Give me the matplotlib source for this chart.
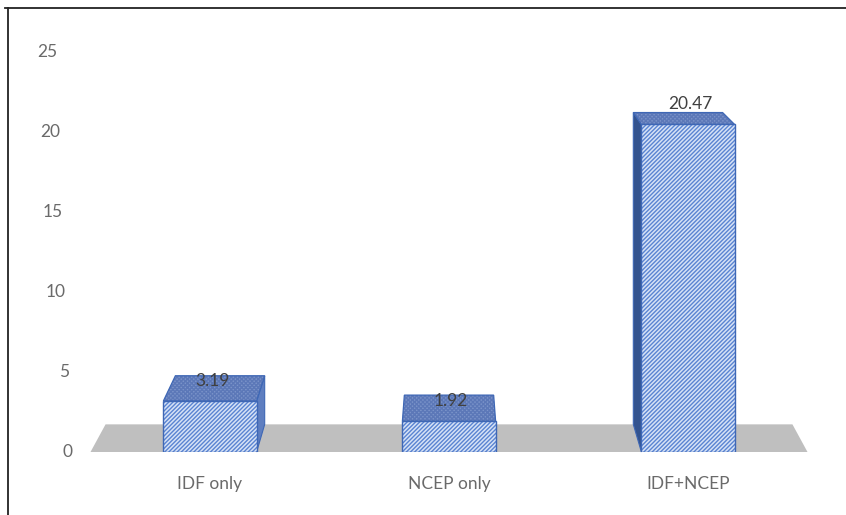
import matplotlib
matplotlib.use("Agg")
import matplotlib.pyplot as plt
from matplotlib.patches import Polygon
from matplotlib.lines import Line2D

# ------------------------------------------------------------
#  Datos
# ------------------------------------------------------------
categories = ["IDF only", "NCEP only", "IDF+NCEP"]
values = [3.19, 1.92, 20.47]
y_ticks = [0, 5, 10, 15, 20, 25]

# ------------------------------------------------------------
#  Estilo y perspectiva (columnas "3D")
# ------------------------------------------------------------
plt.rcParams["font.family"] = ["Lato", "DejaVu Sans"]
plt.rcParams["hatch.linewidth"] = 1.0

VP = (1.0, 36.0)        # punto de fuga en coordenadas de datos
KX, KY = 0.042, 0.048   # profundidad relativa hacia el punto de fuga
BAR_W = 0.39

FRONT_FC = "#D6E2F6"
FRONT_HATCH = "#5A84D2"
EDGE = "#3E67B5"
TOP_FC = "#7A93C9"
TOP_HATCH = "#5C78B8"
SIDE_R = "#5E7EC0"
SIDE_L = "#33538F"
FLOOR = "#BFBFBF"
TXT = "#6A6A6A"


def back(x, y):
    return (x + (VP[0] - x) * KX, y + (VP[1] - y) * KY)


fig = plt.figure(figsize=(8.46, 5.15), dpi=100)
ax = fig.add_axes([90.5 / 846, 63 / 515, 717 / 846, 400 / 515])
ax.set_xlim(-0.5, 2.5)
ax.set_ylim(0, 25)

# suelo gris
x0, x1 = ax.get_xlim()
floor = Polygon([(x0, 0), (x1, 0), back(x1, 0), back(x0, 0)],
                closed=True, facecolor=FLOOR, edgecolor="none", zorder=1,
                clip_on=False)
ax.add_patch(floor)

xs = list(range(len(categories)))

# caras laterales y superiores
for x, h in zip(xs, values):
    l, r = x - BAR_W / 2, x + BAR_W / 2
    if r < VP[0]:
        side = [(r, 0), (r, h), back(r, h), back(r, 0)]
        ax.add_patch(Polygon(side, facecolor=SIDE_R, edgecolor=EDGE,
                             linewidth=0.8, zorder=2, clip_on=False))
    elif l > VP[0]:
        side = [(l, 0), (l, h), back(l, h), back(l, 0)]
        ax.add_patch(Polygon(side, facecolor=SIDE_L, edgecolor=EDGE,
                             linewidth=0.8, zorder=2, clip_on=False))
    top = [(l, h), (r, h), back(r, h), back(l, h)]
    ax.add_patch(Polygon(top, facecolor=TOP_FC, edgecolor=TOP_HATCH,
                         hatch="xxxxxxxx", linewidth=0, zorder=2,
                         clip_on=False))
    ax.add_patch(Polygon(top, fill=False, edgecolor=EDGE,
                         linewidth=0.9, zorder=2.1, clip_on=False))

# cara frontal: relleno + trama, luego contorno
ax.bar(xs, values, width=BAR_W, color=FRONT_FC, edgecolor=FRONT_HATCH,
       hatch="////////", linewidth=0, zorder=3)
ax.bar(xs, values, width=BAR_W, fill=False, edgecolor=EDGE,
       linewidth=1.0, zorder=3.1)

# etiquetas de valor
for x, h in zip(xs, values):
    ax.annotate(f"{h:.2f}", xy=(x, h), xytext=(1.5, 14.5),
                textcoords="offset points", ha="center", va="center",
                fontsize=12.5, color="#404040", zorder=5)

# eje Y (inclinado por la perspectiva)
for v in y_ticks:
    ax.annotate(f"{v}", xy=(0, v), xycoords=ax.get_yaxis_transform(),
                xytext=(-(18.5 + 0.6 * v) * 0.72, 0),
                textcoords="offset points", ha="right", va="center",
                fontsize=12.5, color=TXT)

ax.set_yticks([])
ax.set_xticks(xs, categories)
ax.tick_params(axis="x", length=0, pad=17, labelsize=12.5, labelcolor=TXT)
for s in ax.spines.values():
    s.set_visible(False)

# marco del grafico
fig.add_artist(Line2D([5 / 846, 1], [1 - 8 / 515] * 2,
                      color="#222222", linewidth=1.3))
fig.add_artist(Line2D([7.5 / 846] * 2, [0, 1 - 8 / 515],
                      color="#222222", linewidth=1.3))

fig.savefig("out.png", dpi=100)
